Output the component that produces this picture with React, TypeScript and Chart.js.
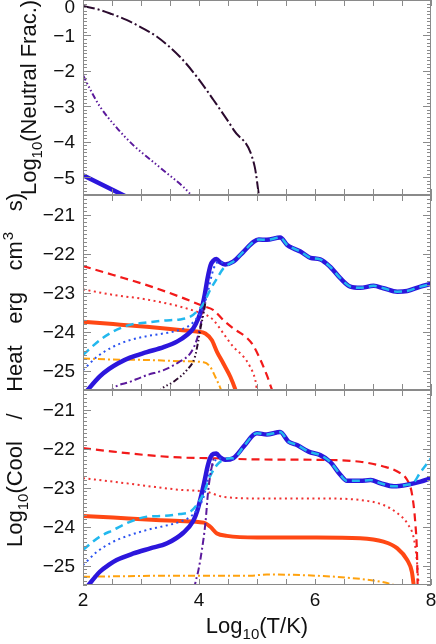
import React, { useEffect, useRef } from 'react';
import { Chart, registerables } from 'chart.js';

Chart.register(...registerables);

const W = 436;
const H = 644;

// ---------- Panel 1: Log10(Neutral fraction) ----------
const nfDarkT = [2.0, 2.29, 2.5, 2.75, 3.0, 3.27, 3.67, 3.96, 4.25, 4.6, 4.96, 5.04];
const nfDarkV = [-0.17, -0.28, -0.4, -0.56, -0.77, -1.03, -1.6, -2.16, -2.82, -3.67, -4.7, -5.6];
const nfPurpleT = [2.0, 2.15, 2.29, 2.58, 2.87, 3.16, 3.45, 3.73, 3.9];
const nfPurpleV = [-2.12, -2.6, -3.0, -3.6, -4.1, -4.5, -4.89, -5.27, -5.56];
const nfBlueT = [2.0, 2.75];
const nfBlueV = [-4.94, -5.55];

// ---------- Panel 2: cooling / heating ----------
const p2BlueT = [2.05, 2.29, 2.45, 2.6, 2.81, 3.1, 3.39, 3.62, 3.79, 3.9, 3.99, 4.05, 4.1, 4.15, 4.2, 4.25, 4.3, 4.36, 4.45, 4.59, 4.77, 4.94, 5.03, 5.17, 5.4, 5.52, 5.63, 5.75, 5.92, 6.09, 6.26, 6.44, 6.61, 6.78, 7.01, 7.18, 7.42, 7.59, 7.82, 8.0];
const p2BlueV = [-25.55, -25.15, -24.96, -24.82, -24.67, -24.53, -24.4, -24.26, -24.09, -23.92, -23.66, -23.4, -23.05, -22.62, -22.3, -22.18, -22.14, -22.22, -22.28, -22.21, -21.95, -21.7, -21.64, -21.65, -21.59, -21.78, -21.87, -21.95, -22.11, -22.15, -22.34, -22.64, -22.85, -22.88, -22.83, -22.89, -22.98, -22.96, -22.85, -22.78];
const p2CyanT = [2.0, 2.29, 2.52, 2.81, 3.1, 3.39, 3.67, 3.85, 3.96, 4.08, 4.19, 4.31, 4.42, 4.54, 4.59, 4.77, 4.94, 5.03, 5.17, 5.4, 5.52, 5.63, 5.75, 5.92, 6.09, 6.26, 6.44, 6.61, 6.78, 7.01, 7.18, 7.42, 7.59, 7.82, 8.0];
const p2CyanV = [-24.6, -24.22, -24.0, -23.83, -23.77, -23.72, -23.69, -23.62, -23.49, -23.28, -22.94, -22.64, -22.38, -22.25, -22.21, -21.95, -21.7, -21.64, -21.65, -21.59, -21.78, -21.87, -21.95, -22.11, -22.15, -22.34, -22.64, -22.85, -22.88, -22.83, -22.89, -22.98, -22.96, -22.85, -22.78];
const p2BlueDotT = [2.0, 2.24, 2.52, 2.81, 3.1, 3.39, 3.67, 3.85, 3.96, 4.08, 4.16, 4.22, 4.28, 4.37, 4.42];
const p2BlueDotV = [-24.99, -24.65, -24.39, -24.22, -24.12, -24.05, -23.96, -23.83, -23.66, -23.36, -22.94, -22.55, -22.29, -22.21, -22.26];
const p2RedDashT = [2.0, 2.52, 3.1, 3.67, 3.96, 4.08, 4.25, 4.42, 4.59, 4.83, 4.94, 5.06, 5.17, 5.26, 5.3];
const p2RedDashV = [-22.32, -22.55, -22.81, -23.11, -23.28, -23.35, -23.45, -23.71, -23.92, -24.17, -24.37, -24.73, -25.12, -25.5, -25.65];
const p2RedDotT = [2.0, 2.52, 3.1, 3.67, 3.96, 4.13, 4.25, 4.42, 4.59, 4.77, 4.88, 4.97, 5.0, 5.02];
const p2RedDotV = [-22.92, -23.06, -23.18, -23.36, -23.49, -23.58, -23.71, -24.05, -24.39, -24.65, -24.9, -25.24, -25.5, -25.6];
const p2OrRedT = [2.0, 2.52, 3.1, 3.67, 3.96, 4.11, 4.22, 4.31, 4.42, 4.54, 4.62, 4.65];
const p2OrRedV = [-23.75, -23.81, -23.88, -23.96, -24.0, -24.05, -24.22, -24.52, -24.82, -25.16, -25.46, -25.6];
const p2OrangeT = [2.0, 2.52, 3.1, 3.67, 4.08, 4.19, 4.28, 4.37, 4.4];
const p2OrangeV = [-24.69, -24.72, -24.73, -24.76, -24.79, -24.9, -25.16, -25.46, -25.6];
const p2PurpleT = [2.45, 2.52, 2.81, 3.1, 3.39, 3.67, 3.85, 3.96, 4.02, 4.08, 4.11];
const p2PurpleV = [-25.6, -25.46, -25.29, -25.12, -24.99, -24.77, -24.56, -24.22, -23.88, -23.45, -23.25];
const p2DarkT = [3.28, 3.33, 3.56, 3.79, 3.93, 3.99, 4.03, 4.08, 4.11];
const p2DarkV = [-25.6, -25.5, -25.29, -24.99, -24.65, -24.22, -23.88, -23.53, -23.25];

// ---------- Panel 3: cooling / heating ----------
const p3BlueT = [2.07, 2.29, 2.45, 2.58, 2.87, 3.16, 3.45, 3.73, 3.9, 3.97, 4.04, 4.1, 4.15, 4.2, 4.25, 4.3, 4.36, 4.45, 4.59, 4.77, 4.94, 5.0, 5.17, 5.4, 5.54, 5.69, 5.89, 6.09, 6.26, 6.44, 6.55, 6.78, 6.96, 7.13, 7.36, 7.59, 7.82, 8.0];
const p3BlueV = [-25.55, -25.16, -24.98, -24.86, -24.69, -24.56, -24.43, -24.16, -23.86, -23.6, -23.2, -22.8, -22.45, -22.22, -22.14, -22.13, -22.22, -22.29, -22.25, -21.95, -21.65, -21.61, -21.64, -21.58, -21.82, -21.91, -22.08, -22.17, -22.34, -22.68, -22.83, -22.83, -22.81, -22.89, -22.97, -22.93, -22.85, -22.76];
const p3CyanT = [2.0, 2.29, 2.52, 2.81, 3.1, 3.39, 3.67, 3.85, 3.96, 4.08, 4.19, 4.31, 4.42, 4.54, 4.59, 4.77, 4.94, 5.0, 5.17, 5.4, 5.54, 5.69, 5.89, 6.09, 6.26, 6.44, 6.55, 6.78, 6.96, 7.13, 7.36, 7.59, 7.7, 7.8, 7.9, 8.0];
const p3CyanV = [-24.6, -24.26, -24.09, -23.88, -23.75, -23.73, -23.68, -23.62, -23.45, -23.15, -22.72, -22.42, -22.29, -22.25, -22.25, -21.95, -21.65, -21.61, -21.64, -21.58, -21.82, -21.91, -22.08, -22.17, -22.34, -22.68, -22.83, -22.83, -22.81, -22.89, -22.97, -22.93, -22.88, -22.65, -22.45, -22.25];
const p3BlueDotT = [2.0, 2.24, 2.52, 2.81, 3.1, 3.39, 3.67, 3.85, 3.96, 4.08, 4.16, 4.25, 4.34, 4.42];
const p3BlueDotV = [-24.99, -24.65, -24.39, -24.22, -24.09, -23.99, -23.88, -23.75, -23.58, -23.24, -22.76, -22.38, -22.25, -22.28];
const p3RedDashT = [2.0, 2.52, 3.1, 3.67, 4.25, 5.0, 6.03, 6.78, 7.18, 7.42, 7.59, 7.67, 7.73, 7.76, 7.77];
const p3RedDashV = [-21.99, -22.08, -22.17, -22.23, -22.25, -22.28, -22.29, -22.34, -22.46, -22.59, -22.81, -23.15, -23.92, -24.77, -25.6];
const p3RedDotT = [2.0, 2.52, 3.1, 3.67, 4.13, 4.42, 5.0, 6.03, 6.78, 7.18, 7.42, 7.59, 7.71, 7.76, 7.79];
const p3RedDotV = [-22.76, -22.85, -22.96, -23.06, -23.11, -23.24, -23.28, -23.28, -23.32, -23.45, -23.66, -23.92, -24.35, -24.94, -25.6];
const p3OrRedT = [2.0, 2.52, 3.1, 3.67, 4.08, 4.19, 4.31, 4.48, 5.0, 6.03, 6.78, 7.18, 7.42, 7.59, 7.67, 7.71];
const p3OrRedV = [-23.73, -23.77, -23.82, -23.86, -23.9, -24.0, -24.18, -24.24, -24.28, -24.28, -24.3, -24.39, -24.56, -24.86, -25.16, -25.6];
const p3OrangeT = [2.0, 3.67, 4.88, 5.17, 6.0, 6.61, 7.07, 7.36, 7.45];
const p3OrangeV = [-25.29, -25.26, -25.26, -25.23, -25.26, -25.32, -25.4, -25.5, -25.56];
const p3PurpleT = [3.92, 3.93, 3.99, 4.05, 4.11, 4.16, 4.22, 4.26];
const p3PurpleV = [-25.6, -25.5, -25.12, -24.6, -23.92, -23.06, -22.47, -22.2];

// ---------- axes / text ----------
const xTickLabels = ['2', '4', '6', '8'];
const xTickValues = [2, 4, 6, 8];
const y1TickValues = [0, -1, -2, -3, -4, -5];
const y23TickValues = [-21, -22, -23, -24, -25];

const BLUE = '#2c16dc';
const CYAN = '#22b8ee';
const BLUE_DOT = '#2a52f0';
const RED = '#f21a1a';
const RED_DOT = '#f03232';
const ORRED = '#ff4814';
const ORANGE = '#ffa20e';
const PURPLE = '#5b1a9c';
const DARK = '#2b0a2e';
const FRAME = '#8a8a8a';
const TEXT = '#111111';
const FONT = '"Liberation Sans", Arial, sans-serif';

const pts = (t: number[], v: number[]) => t.map((x, i) => ({ x, y: v[i] }));

const line = (label: string, t: number[], v: number[], yAxisID: string, color: string, width: number, dash: number[]) => ({
  label,
  data: pts(t, v),
  yAxisID,
  borderColor: color,
  backgroundColor: color,
  borderWidth: width,
  borderDash: dash,
  pointRadius: 0,
  fill: false,
  cubicInterpolationMode: 'monotone' as const,
  clip: 0,
});

const DASH = [8, 5];
const DOT = [2, 3.5];
const DASHDOT = [7, 3, 2, 3];
const DASH3DOT = [6, 2.5, 1.5, 2.5, 1.5, 2.5, 1.5, 2.5];
const LONGDASHDOT = [12, 3, 2, 3];

type Part = { t: string; kind?: 'sub' | 'sup' | 'gap' };

function drawRichText(ctx: CanvasRenderingContext2D, parts: Part[], startX: number, mainSize: number, subSize: number, gapW: number) {
  let x = startX;
  for (const p of parts) {
    if (p.kind === 'gap') { x += gapW; continue; }
    if (p.kind === 'sub') {
      ctx.font = `${subSize}px ${FONT}`;
      ctx.fillText(p.t, x, 6);
    } else if (p.kind === 'sup') {
      ctx.font = `${subSize}px ${FONT}`;
      ctx.fillText(p.t, x + 1, -9);
    } else {
      ctx.font = `${mainSize}px ${FONT}`;
      ctx.fillText(p.t, x, 0);
    }
    x += ctx.measureText(p.t).width;
  }
}

function measureRich(ctx: CanvasRenderingContext2D, parts: Part[], mainSize: number, subSize: number) {
  let w = 0; let gaps = 0;
  for (const p of parts) {
    if (p.kind === 'gap') { gaps++; continue; }
    ctx.font = `${p.kind ? subSize : mainSize}px ${FONT}`;
    w += ctx.measureText(p.t).width + (p.kind === 'sup' ? 1 : 0);
  }
  return { w, gaps };
}

const decorPlugin = {
  id: 'decor',
  afterDraw(chart: any) {
    const ctx: CanvasRenderingContext2D = chart.ctx;
    const xs = chart.scales.x;
    const L = xs.left;
    const R = xs.right;
    const panels = [
      { id: 'y1', labels: y1TickValues },
      { id: 'y2', labels: y23TickValues },
      { id: 'y3', labels: y23TickValues },
    ];
    ctx.save();
    for (const p of panels) {
      const ys = chart.scales[p.id];
      const T = ys.top;
      const B = ys.bottom;
      ctx.strokeStyle = FRAME;
      ctx.lineWidth = 1;
      ctx.setLineDash([]);
      ctx.strokeRect(Math.round(L) + 0.5, Math.round(T) + 0.5, Math.round(R - L) - 1, Math.round(B - T) - 1);
      ctx.beginPath();
      const lo = Math.ceil(ys.min * 10 - 1e-6);
      const hi = Math.floor(ys.max * 10 + 1e-6);
      for (let k = lo; k <= hi; k++) {
        const yy = Math.round(ys.getPixelForValue(k / 10)) + 0.5;
        const len = k % 10 === 0 ? 8 : 4;
        ctx.moveTo(L, yy); ctx.lineTo(L + len, yy);
        ctx.moveTo(R, yy); ctx.lineTo(R - len, yy);
      }
      for (let k = Math.ceil(xs.min * 2); k <= Math.floor(xs.max * 2); k++) {
        const xx = Math.round(xs.getPixelForValue(k / 2)) + 0.5;
        ctx.moveTo(xx, T); ctx.lineTo(xx, T + 6);
        ctx.moveTo(xx, B); ctx.lineTo(xx, B - 6);
      }
      ctx.stroke();
      ctx.fillStyle = TEXT;
      ctx.font = `19px ${FONT}`;
      ctx.textAlign = 'right';
      ctx.textBaseline = 'middle';
      for (const v of p.labels) {
        let yy = ys.getPixelForValue(v);
        yy = Math.max(yy, T + 7);
        const s = v === 0 ? '0' : '\u2212' + Math.abs(v);
        ctx.fillText(s, L - 8, yy + 1);
      }
    }
    const yb = chart.scales.y3.bottom;
    ctx.textAlign = 'center';
    ctx.textBaseline = 'middle';
    ctx.font = `19px ${FONT}`;
    xTickValues.forEach((v, i) => {
      ctx.fillText(xTickLabels[i], xs.getPixelForValue(v), yb + 16);
    });

    ctx.textAlign = 'left';
    ctx.textBaseline = 'alphabetic';
    const xTitle: Part[] = [{ t: 'Log' }, { t: '10', kind: 'sub' }, { t: '(T/K)' }];
    const mx = measureRich(ctx, xTitle, 22, 15);
    ctx.save();
    ctx.translate((L + R) / 2, 633);
    drawRichText(ctx, xTitle, -mx.w / 2, 22, 15, 0);
    ctx.restore();

    const y1s = chart.scales.y1;
    const t1: Part[] = [{ t: 'Log' }, { t: '10', kind: 'sub' }, { t: '(Neutral' }, { t: '', kind: 'gap' }, { t: 'Frac.)' }];
    ctx.font = `22px ${FONT}`;
    const sp = ctx.measureText(' ').width;
    const m1 = measureRich(ctx, t1, 22, 15);
    ctx.save();
    ctx.translate(36, (y1s.top + y1s.bottom) / 2);
    ctx.rotate(-Math.PI / 2);
    drawRichText(ctx, t1, -(m1.w + sp) / 2, 22, 15, sp);
    ctx.restore();

    const t2: Part[] = [
      { t: 'Log' }, { t: '10', kind: 'sub' }, { t: '(Cool' }, { t: '', kind: 'gap' },
      { t: '/' }, { t: '', kind: 'gap' }, { t: 'Heat' }, { t: '', kind: 'gap' },
      { t: 'erg' }, { t: '', kind: 'gap' }, { t: 'cm' }, { t: '3', kind: 'sup' },
      { t: '', kind: 'gap' }, { t: 's)' },
    ];
    const m2 = measureRich(ctx, t2, 22, 15);
    const total2 = 355;
    const gap2 = (total2 - m2.w) / m2.gaps;
    ctx.save();
    ctx.translate(22, (547 + 192) / 2);
    ctx.rotate(-Math.PI / 2);
    drawRichText(ctx, t2, -total2 / 2, 22, 15, gap2);
    ctx.restore();
    ctx.restore();
  },
};

export default function App() {
  const ref = useRef<HTMLCanvasElement>(null);
  useEffect(() => {
    document.body.style.margin = '0';
    const canvas = ref.current;
    if (!canvas) return;
    const fitY = (s: any) => { s.width = 83; s.paddingTop = 0; s.paddingBottom = 0; };
    const yScale = (min: number, max: number) => ({
      type: 'linear' as const,
      position: 'left' as const,
      min,
      max,
      stack: 'panels',
      stackWeight: 1,
      grid: { display: false, drawTicks: false },
      border: { display: false },
      ticks: { display: false },
      afterFit: fitY,
    });
    const chart = new Chart(canvas, {
      type: 'line',
      data: {
        datasets: [
          line('nf dark', nfDarkT, nfDarkV, 'y1', DARK, 2, LONGDASHDOT),
          line('nf purple', nfPurpleT, nfPurpleV, 'y1', PURPLE, 2, DASH3DOT),
          line('nf blue', nfBlueT, nfBlueV, 'y1', BLUE, 4.5, []),
          line('p2 dark', p2DarkT, p2DarkV, 'y2', DARK, 2, DASH3DOT),
          line('p2 purple', p2PurpleT, p2PurpleV, 'y2', PURPLE, 2, DASHDOT),
          line('p2 cyan', p2CyanT, p2CyanV, 'y2', CYAN, 2.5, DASH),
          line('p2 blue dot', p2BlueDotT, p2BlueDotV, 'y2', BLUE_DOT, 2, DOT),
          line('p2 blue', p2BlueT, p2BlueV, 'y2', BLUE, 4.5, []),
          line('p2 orange-red', p2OrRedT, p2OrRedV, 'y2', ORRED, 4, []),
          line('p2 red dash', p2RedDashT, p2RedDashV, 'y2', RED, 2.2, DASH),
          line('p2 red dot', p2RedDotT, p2RedDotV, 'y2', RED_DOT, 2, DOT),
          line('p2 orange', p2OrangeT, p2OrangeV, 'y2', ORANGE, 2, DASHDOT),
          line('p3 purple', p3PurpleT, p3PurpleV, 'y3', PURPLE, 2, DASHDOT),
          line('p3 cyan', p3CyanT, p3CyanV, 'y3', CYAN, 2.5, DASH),
          line('p3 blue dot', p3BlueDotT, p3BlueDotV, 'y3', BLUE_DOT, 2, DOT),
          line('p3 blue', p3BlueT, p3BlueV, 'y3', BLUE, 4.5, []),
          line('p3 orange-red', p3OrRedT, p3OrRedV, 'y3', ORRED, 4, []),
          line('p3 red dash', p3RedDashT, p3RedDashV, 'y3', RED, 2.2, DASH),
          line('p3 red dot', p3RedDotT, p3RedDotV, 'y3', RED_DOT, 2, DOT),
          line('p3 orange', p3OrangeT, p3OrangeV, 'y3', ORANGE, 2, DASHDOT),
        ],
      },
      options: {
        responsive: false,
        animation: false,
        devicePixelRatio: 1,
        layout: { padding: { left: 0, right: 5, top: 0, bottom: 0 } },
        plugins: { legend: { display: false }, tooltip: { enabled: false }, title: { display: false } },
        scales: {
          x: {
            type: 'linear',
            min: 2,
            max: 8,
            grid: { display: false, drawTicks: false },
            border: { display: false },
            ticks: { display: false },
            afterFit: (s: any) => { s.height = 59; s.paddingLeft = 0; s.paddingRight = 0; },
          },
          y3: yScale(-25.5, -20.5),
          y2: yScale(-25.5, -20.5),
          y1: yScale(-5.5, 0),
        },
      } as any,
      plugins: [decorPlugin],
    });
    return () => chart.destroy();
  }, []);
  return <canvas ref={ref} width={W} height={H} style={{ display: 'block', width: W, height: H }} />;
}
